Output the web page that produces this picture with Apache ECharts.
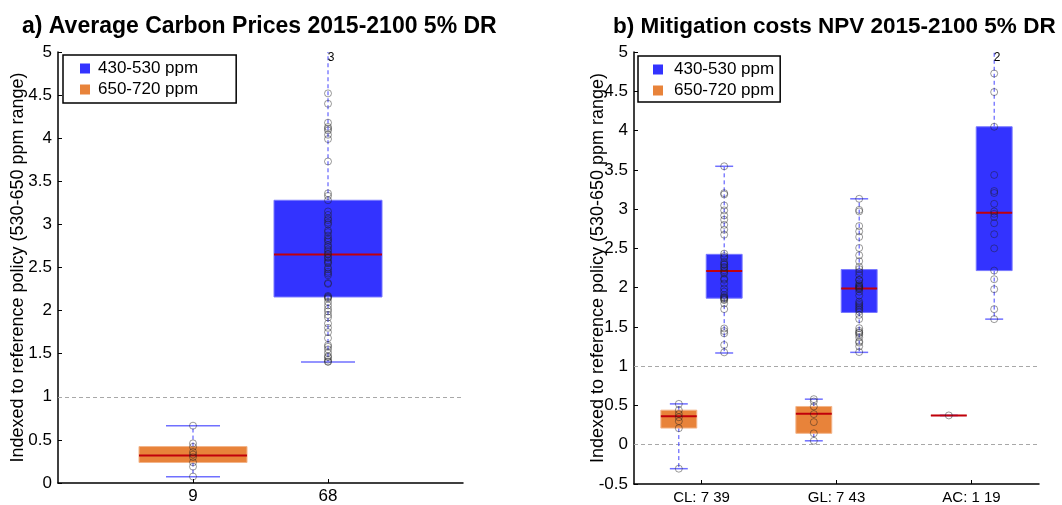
<!DOCTYPE html>
<html><head><meta charset="utf-8">
<script src="https://cdn.jsdelivr.net/npm/echarts@6/dist/echarts.min.js"></script>
<style>html,body{margin:0;padding:0;background:#fff}#c{width:1062px;height:505px}</style>
</head><body><div id="c"></div>
<script>
// ---------- data ----------
const seriesNames = ['430-530 ppm', '650-720 ppm'];
const titleA = 'a) Average Carbon Prices 2015-2100 5% DR';
const titleB = 'b) Mitigation costs NPV 2015-2100 5% DR';
const yName = 'Indexed to reference policy (530-650 ppm range)';

// Panel a: one box per category ([min, q1, median, q3, max])
const catsA = ['9', '68'];
const statsA_high = [null, [1.405, 2.158, 2.65, 3.28, 5.6]];
const statsA_low  = [[0.073, 0.238, 0.319, 0.423, 0.665], null];
const ptsA_high = [null, [4.52,4.40,4.18,4.13,4.11,4.09,4.04,3.99,3.73,3.36,3.33,3.28,3.15,3.11,3.07,3.05,3.02,3.00,2.93,2.91,2.87,2.84,2.82,2.80,2.76,2.74,2.71,2.69,2.66,2.65,2.62,2.61,2.58,2.56,2.55,2.50,2.48,2.45,2.43,2.41,2.32,2.31,2.17,2.16,2.15,2.14,2.10,2.06,2.02,1.99,1.95,1.92,1.85,1.80,1.75,1.68,1.60,1.58,1.55,1.51,1.47,1.43,1.41,1.405,1.46]];
const ptsA_low  = [[0.665,0.46,0.42,0.36,0.33,0.30,0.24,0.19,0.075], null];
const aboveA_high = [0, 3];
const refA = [1];

// Panel b
const catsB = ['CL: 7 39', 'GL: 7 43', 'AC: 1 19'];
const statsB_high = [[1.168,1.866,2.213,2.424,3.545],[1.176,1.684,1.989,2.23,3.131],[1.599,2.217,2.953,4.048,5.5]];
const statsB_low  = [[-0.305,0.212,0.364,0.44,0.52],[0.05,0.145,0.393,0.487,0.58],[0.373,0.373,0.373,0.373,0.373]];
const ptsB_high = [
  [3.545,3.203,3.186,3.046,2.983,2.919,2.864,2.80,2.737,2.674,2.433,2.40,2.378,2.327,2.30,2.293,2.264,2.25,2.221,2.20,2.179,2.116,2.10,2.052,1.989,1.95,1.904,1.883,1.87,1.862,1.85,1.841,1.799,1.727,1.48,1.447,1.418,1.27,1.176],
  [3.131,2.99,2.97,2.784,2.716,2.645,2.505,2.412,2.337,2.265,2.236,2.20,2.16,2.10,2.096,2.054,2.033,2.02,2.012,2.00,1.99,1.98,1.948,1.90,1.822,1.80,1.78,1.76,1.738,1.72,1.695,1.653,1.60,1.484,1.45,1.43,1.421,1.40,1.366,1.315,1.30,1.252,1.18],
  [4.726,4.49,4.048,3.435,3.23,3.205,3.067,2.97,2.94,2.90,2.82,2.68,2.50,2.217,2.107,1.98,1.726,1.599]
];
const ptsB_low = [[0.52,0.44,0.39,0.35,0.30,0.21,-0.305],[0.58,0.55,0.487,0.39,0.288,0.145,0.05],[0.373]];
const aboveB_high = [0, 0, 2];
const refB = [0, 1];

// ---------- styles ----------
const BLUE = '#3333ff', BLUE_EDGE = '#7878ff', ORANGE = '#e8833a', ORANGE_EDGE = '#f3b58a';
const MED = '#c0000b', WHISK = '#4545ff', CAP = '#7070ff';
const FONT = 'Liberation Sans, Arial, sans-serif';

function boxSeries(name, color, edge, stats, above, offset, halfW, axisIdx, ymax, refs) {
  const data = [];
  stats.forEach((s, i) => { if (s) data.push([i + 1 + offset, i]); });
  const ser = {
    type: 'custom', name, xAxisIndex: axisIdx, yAxisIndex: axisIdx, clip: true,
    itemStyle: { color }, z: 2,
    encode: { x: 0, y: -1 },
    data,
    renderItem(params, api) {
      const x = api.value(0), i = api.value(1), s = stats[i];
      const c = v => api.coord([x, v]);
      const cx = c(0)[0];
      const l = api.coord([x - halfW, 0])[0], r = api.coord([x + halfW, 0])[0];
      const cl = api.coord([x - halfW / 2, 0])[0], cr = api.coord([x + halfW / 2, 0])[0];
      const y0 = c(s[0])[1], y1 = c(s[1])[1], y2 = c(s[2])[1], y3 = c(s[3])[1], y4 = c(s[4])[1];
      const ch = [
        { type: 'line', shape: { x1: cx, y1: y3, x2: cx, y2: y4 }, style: { stroke: WHISK, lineWidth: 1, lineDash: [4, 3] } },
        { type: 'line', shape: { x1: cx, y1: y1, x2: cx, y2: y0 }, style: { stroke: WHISK, lineWidth: 1, lineDash: [4, 3] } },
        { type: 'line', shape: { x1: cl, y1: y4, x2: cr, y2: y4 }, style: { stroke: CAP, lineWidth: 1.5 } },
        { type: 'line', shape: { x1: cl, y1: y0, x2: cr, y2: y0 }, style: { stroke: CAP, lineWidth: 1.5 } },
        { type: 'rect', shape: { x: l, y: y3, width: r - l, height: Math.max(y1 - y3, 0) }, style: { fill: color, stroke: edge, lineWidth: 1 } },
        { type: 'line', shape: { x1: l, y1: y2, x2: r, y2: y2 }, style: { stroke: MED, lineWidth: 2 } }
      ];
      if (above[i] > 0) {
        const yt = c(ymax)[1];
        ch.push({ type: 'text', x: cx + 3, y: yt + 0, style: { text: String(above[i]), fill: '#000', font: '12px ' + FONT, align: 'center', verticalAlign: 'top' }, z2: 10 });
      }
      return { type: 'group', children: ch };
    }
  };
  if (refs) {
    ser.markLine = { silent: true, symbol: 'none', label: { show: false }, z: 1,
      lineStyle: { color: '#a8a8a8', type: [4, 3], width: 1 },
      data: refs.map(v => ({ yAxis: v })) };
  }
  return ser;
}
function ptSeries(pts, offset, axisIdx) {
  const d = [];
  pts.forEach((arr, i) => { if (arr) arr.forEach(v => d.push([i + 1 + offset, v])); });
  return { type: 'scatter', name: 'pts' + axisIdx + offset, xAxisIndex: axisIdx, yAxisIndex: axisIdx, data: d,
    symbol: 'circle', symbolSize: 7, silent: true, z: 5, clip: true,
    itemStyle: { color: 'rgba(0,0,0,0)', borderColor: 'rgba(30,30,30,0.7)', borderWidth: 0.8 } };
}

const axisCommonY = {
  type: 'value', interval: 0.5, max: 5,
  axisLine: { show: true, onZero: false, lineStyle: { color: '#000', width: 1.5 } },
  axisTick: { show: true, inside: true, length: 4, lineStyle: { color: '#000' } },
  axisLabel: { color: '#000', fontSize: 17, fontFamily: FONT, margin: 6 },
  splitLine: { show: false },
  name: yName, nameLocation: 'middle', nameMoveOverlap: false,
  nameTextStyle: { color: '#000', fontSize: 18, fontFamily: FONT }
};

const option = {
  animation: false,
  backgroundColor: '#fff',
  title: [
    { text: titleA, left: 22, top: 15, padding: 0, textStyle: { fontSize: 23, fontWeight: 'bold', color: '#000', fontFamily: FONT } },
    { text: titleB, left: 613, top: 15, padding: 0, textStyle: { fontSize: 22.5, fontWeight: 'bold', color: '#000', fontFamily: FONT } }
  ],
  legend: [
    { data: seriesNames, orient: 'vertical', left: 63, top: 55, itemWidth: 10, itemHeight: 10, itemGap: 4,
      icon: 'rect', padding: [5, 38, 5, 17], borderColor: '#000', borderWidth: 1.5,
      textStyle: { fontSize: 17, color: '#000', fontFamily: FONT, padding: [0, 0, 0, 3] }, selectedMode: false },
    { data: seriesNames, orient: 'vertical', left: 638, top: 56, itemWidth: 10, itemHeight: 10, itemGap: 4,
      icon: 'rect', padding: [5, 6, 3, 15], borderColor: '#000', borderWidth: 1.5,
      textStyle: { fontSize: 17, color: '#000', fontFamily: FONT, padding: [0, 0, 0, 6] }, selectedMode: false }
  ],
  grid: [
    { left: 58, top: 52, width: 405, height: 434 },
    { left: 634, top: 52, width: 405, height: 434 }
  ],
  xAxis: [
    { type: 'value', gridIndex: 0, min: 0, max: 3,
      axisLine: { onZero: false, lineStyle: { color: '#000', width: 1.5 } },
      axisTick: { show: true, inside: true, length: 4, customValues: [1, 2], lineStyle: { color: '#000' } },
      axisLabel: { customValues: [1, 2], formatter: v => catsA[v - 1], color: '#000', fontSize: 17, fontFamily: FONT, margin: 5 },
      splitLine: { show: false } },
    { type: 'value', gridIndex: 1, min: 0.5, max: 3.5,
      axisLine: { onZero: false, lineStyle: { color: '#000', width: 1.5 } },
      axisTick: { show: true, inside: true, length: 4, customValues: [1, 2, 3], lineStyle: { color: '#000' } },
      axisLabel: { customValues: [1, 2, 3], formatter: v => catsB[v - 1], color: '#000', fontSize: 15, fontFamily: FONT, margin: 6 },
      splitLine: { show: false } }
  ],
  yAxis: [
    Object.assign({}, axisCommonY, { gridIndex: 0, min: 0, nameGap: 31 }),
    Object.assign({}, axisCommonY, { gridIndex: 1, min: -0.5, nameGap: 27 })
  ],
  series: [
    boxSeries(seriesNames[0], BLUE, BLUE_EDGE, statsA_high, aboveA_high, 0, 0.4, 0, 5, null),
    boxSeries(seriesNames[1], ORANGE, ORANGE_EDGE, statsA_low, [0, 0], 0, 0.4, 0, 5, refA),
    ptSeries(ptsA_high, 0, 0),
    ptSeries(ptsA_low, 0, 0),
    boxSeries(seriesNames[0], BLUE, BLUE_EDGE, statsB_high, aboveB_high, 0.168, 0.133, 1, 5, null),
    boxSeries(seriesNames[1], ORANGE, ORANGE_EDGE, statsB_low, [0, 0, 0], -0.168, 0.133, 1, 5, refB),
    ptSeries(ptsB_high, 0.168, 1),
    ptSeries(ptsB_low, -0.168, 1)
  ]
};
const chart = echarts.init(document.getElementById('c'), null, { renderer: 'canvas' });
chart.setOption(option);
</script></body></html>
